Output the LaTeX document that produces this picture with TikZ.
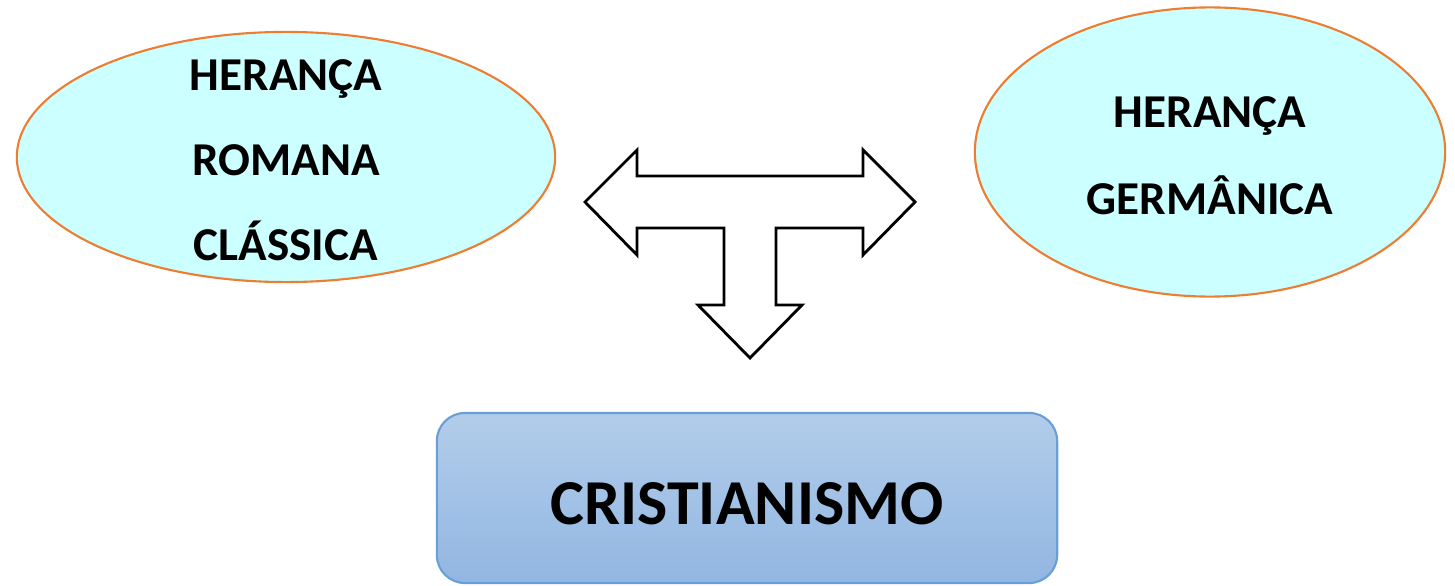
\documentclass[tikz,border=0pt]{standalone}
\usepackage{fontspec}
\setmainfont{Carlito}
\usepackage{tikz}
\usetikzlibrary{shapes.geometric}

\definecolor{ciano}{HTML}{CCFFFF}
\definecolor{laranja}{HTML}{ED7D31}
\definecolor{azulborda}{HTML}{6A9FD6}
\definecolor{azulcima}{HTML}{B2CDEA}
\definecolor{azulbaixo}{HTML}{92B6E2}

\begin{document}
\begin{tikzpicture}[
        x=0.01cm, y=-0.01cm,
        heranca/.style = {shape=ellipse, draw=laranja, fill=ciano,
                line width=0.6pt, inner sep=0pt},
        rotulo/.style = {align=center, inner sep=0pt,
                font=\fontsize{13.4}{24.2}\selectfont\bfseries},
        caixa/.style = {shape=rectangle, rounded corners=8pt,
                draw=azulborda, line width=0.6pt,
                top color=azulcima, bottom color=azulbaixo,
                minimum width=6.2cm, minimum height=1.7cm,
                text height=14.9pt, text depth=0pt,
                font=\fontsize{18.2}{22}\selectfont\bfseries},
        seta/.style = {draw=black, line width=0.8pt, fill=white,
                line join=miter}
    ]
    \useasboundingbox (0,0) rectangle (1455,585);

    % heranças
    \node[heranca, minimum width=5.38cm, minimum height=2.5cm] (romana) at (286,157) {};
    \node[rotulo] (romanatxt) at (286,160) {HERANÇA\\ROMANA\\CLÁSSICA};

    \node[heranca, minimum width=4.7cm, minimum height=2.89cm] (germanica) at (1210,152) {};
    \node[rotulo, font=\fontsize{13.4}{24.8}\selectfont\bfseries] (germanicatxt) at (1210,156) {HERANÇA\\GERMÂNICA};

    % seta em T
    \draw[seta] (585,202) -- (637,150) -- (637,176) -- (863,176) -- (863,150)
        -- (915,202) -- (863,255) -- (863,228) -- (776,228) -- (776,305)
        -- (802,305) -- (750,358) -- (698,305) -- (724,305) -- (724,228)
        -- (637,228) -- (637,255) -- cycle;

    % resultado
    \node[caixa] (cristianismo) at (747,498) {CRISTIANISMO};
\end{tikzpicture}
\end{document}
